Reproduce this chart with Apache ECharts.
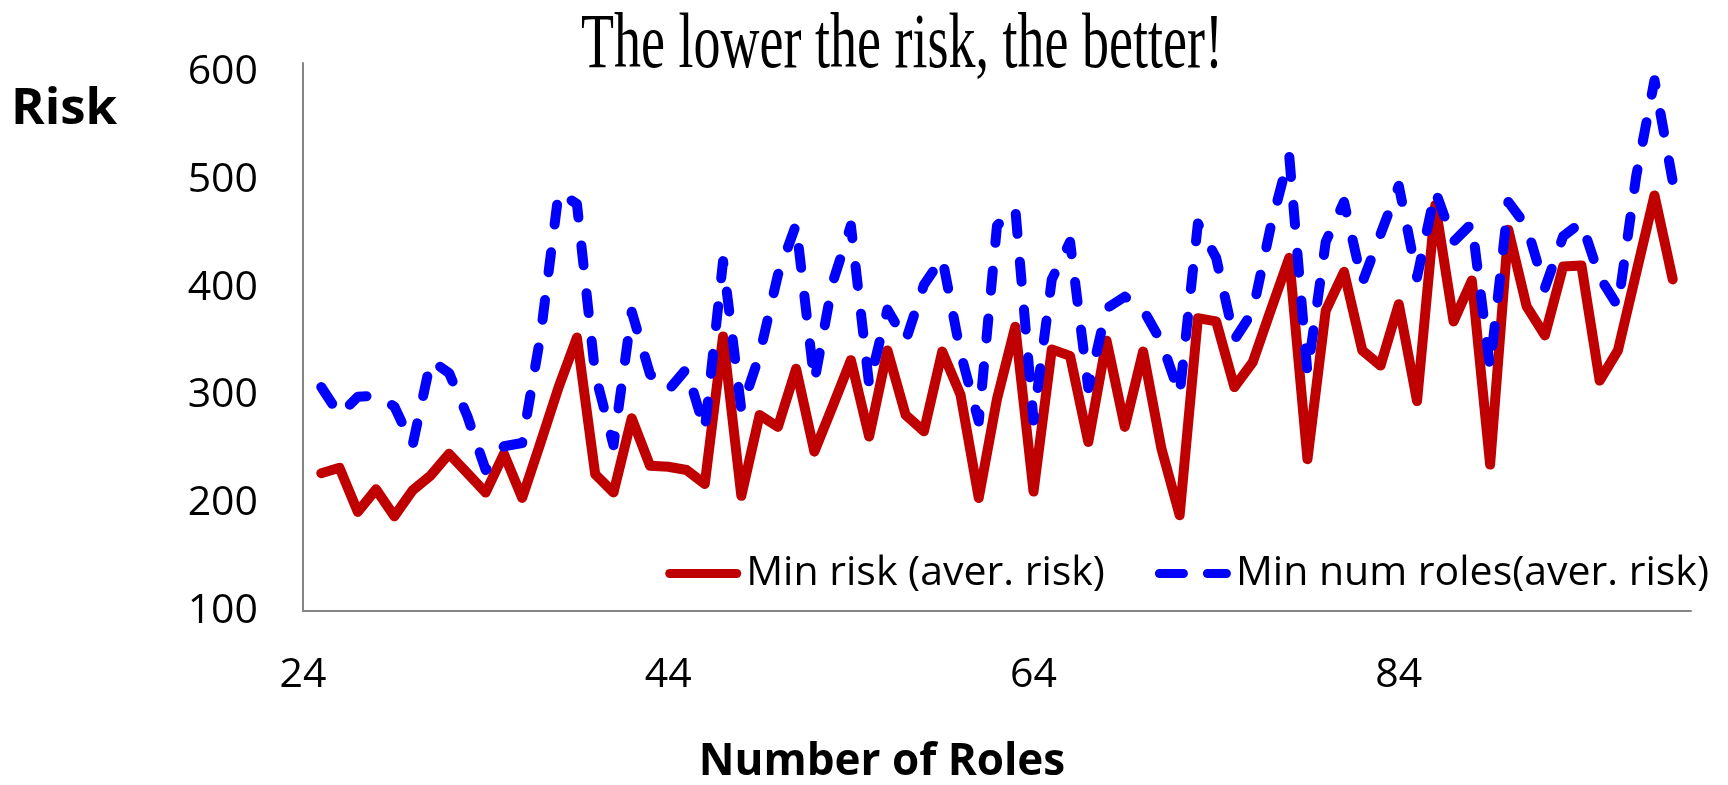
<!DOCTYPE html>
<html>
<head>
<meta charset="utf-8">
<title>The lower the risk, the better!</title>
<script src="https://cdn.jsdelivr.net/npm/echarts@6/dist/echarts.min.js"></script>
<style>
  html, body { margin: 0; padding: 0; background: #ffffff; }
  #chart { width: 1728px; height: 785px; }
</style>
</head>
<body>
<div id="chart"></div>
<script>
// Number of roles (x values)
const roles = [
  25, 26, 27, 28, 29, 30, 31, 32, 33, 34, 35, 36,
  37, 38, 39, 40, 41, 42, 43, 44, 45, 46, 47, 48,
  49, 50, 51, 52, 53, 54, 55, 56, 57, 58, 59, 60,
  61, 62, 63, 64, 65, 66, 67, 68, 69, 70, 71, 72,
  73, 74, 75, 76, 77, 78, 79, 80, 81, 82, 83, 84,
  85, 86, 87, 88, 89, 90, 91, 92, 93, 94, 95, 96,
  97, 98, 99
];

// Min risk (aver. risk)
const minRisk = [
  228, 233, 192, 213, 188, 212, 226, 246, 228, 210, 246, 205,
  256, 308, 354, 227, 210, 279, 235, 234, 231, 218, 355, 207,
  282, 271, 325, 248, 290, 333, 262, 342, 282, 267, 341, 301,
  205, 297, 364, 211, 343, 337, 257, 351, 271, 341, 251, 189,
  372, 369, 308, 331, 380, 428, 241, 379, 415, 342, 328, 385,
  295, 477, 369, 407, 236, 454, 383, 356, 420, 421, 314, 342,
  414, 486, 408
];

// Min num roles (aver. risk)
const minNumRoles = [
  308, 282, 299, 300, 290, 254, 333, 321, 281, 231, 253, 256,
  355, 489, 478, 320, 254, 378, 320, 305, 325, 268, 425, 287,
  338, 412, 459, 313, 405, 458, 310, 380, 351, 403, 428, 340,
  276, 458, 474, 277, 408, 443, 307, 381, 392, 380, 350, 301,
  460, 428, 352, 378, 458, 523, 321, 443, 480, 405, 450, 495,
  410, 490, 443, 460, 326, 480, 457, 400, 448, 461, 410, 383,
  504, 593, 499
];

const seriesNames = ['Min risk (aver. risk)', 'Min num roles(aver. risk)'];
const chartTitle = 'The lower the risk, the better!';
const yTitle = 'Risk';
const xTitle = 'Number of Roles';

const pairs = (ys) => roles.map((x, i) => [x, ys[i]]);

const labelFont = '"Open Sans", "Liberation Sans", sans-serif';
const axisGray = '#868686';
const red = '#C00000';
const blue = '#0000FF';

// Legend keys: a solid rounded bar and two rounded dashes
const solidKey = 'path://M4.5,0H71.5A4.5,4.5,0,0,1,71.5,9H4.5A4.5,4.5,0,0,1,4.5,0Z';
const dashedKey = 'path://M4.5,0H28.5A4.5,4.5,0,0,1,28.5,9H4.5A4.5,4.5,0,0,1,4.5,0Z' +
                  'M52.5,0H71.5A4.5,4.5,0,0,1,71.5,9H52.5A4.5,4.5,0,0,1,52.5,0Z';

const chart = echarts.init(document.getElementById('chart'), null, { renderer: 'canvas' });

chart.setOption({
  backgroundColor: '#ffffff',
  animation: false,
  grid: {
    left: 303,
    right: 37,
    top: 63,
    bottom: 174,
    containLabel: false,
    outerBoundsMode: 'none'
  },
  xAxis: {
    type: 'value',
    min: 24,
    max: 100,
    interval: 20,
    axisLine: { show: true, lineStyle: { color: axisGray, width: 2 } },
    axisTick: { show: false },
    splitLine: { show: false },
    axisLabel: {
      showMaxLabel: false,
      margin: 44,
      color: '#000000',
      fontFamily: labelFont,
      fontSize: 41
    }
  },
  yAxis: {
    type: 'value',
    min: 100,
    max: 609,
    interval: 100,
    axisLine: { show: true, lineStyle: { color: axisGray, width: 2 } },
    axisTick: { show: false },
    splitLine: { show: false },
    axisLabel: {
      showMaxLabel: false,
      margin: 45,
      color: '#000000',
      fontFamily: labelFont,
      fontSize: 41
    }
  },
  legend: {
    data: [
      { name: seriesNames[0], icon: solidKey, itemStyle: { color: red, borderWidth: 0 } },
      { name: seriesNames[1], icon: dashedKey, itemStyle: { color: blue, borderWidth: 0 } }
    ],
    right: 14,
    top: 548,
    itemWidth: 76,
    itemHeight: 10,
    itemGap: 50,
    textStyle: {
      color: '#000000',
      fontFamily: labelFont,
      fontSize: 41
    }
  },
  series: [
    {
      name: seriesNames[0],
      type: 'line',
      data: pairs(minRisk),
      showSymbol: false,
      symbol: 'none',
      z: 2,
      lineStyle: { color: red, width: 10, join: 'round', cap: 'round' },
      itemStyle: { color: red }
    },
    {
      name: seriesNames[1],
      type: 'line',
      data: pairs(minNumRoles),
      showSymbol: false,
      symbol: 'none',
      z: 3,
      lineStyle: { color: blue, width: 10, type: [20, 28], cap: 'round', join: 'round' },
      itemStyle: { color: blue }
    }
  ],
  graphic: [
    {
      type: 'text',
      x: 902,
      y: 46,
      scaleY: 1.45,
      style: {
        text: chartTitle,
        fill: '#000000',
        fontFamily: '"Liberation Serif", "DejaVu Serif", serif',
        fontSize: 54,
        align: 'center',
        verticalAlign: 'middle'
      }
    },
    {
      type: 'text',
      x: 11,
      y: 109,
      style: {
        text: yTitle,
        fill: '#000000',
        fontFamily: labelFont,
        fontWeight: 'bold',
        fontSize: 51,
        align: 'left',
        verticalAlign: 'middle'
      }
    },
    {
      type: 'text',
      x: 882,
      y: 762,
      style: {
        text: xTitle,
        fill: '#000000',
        fontFamily: labelFont,
        fontWeight: 'bold',
        fontSize: 44,
        align: 'center',
        verticalAlign: 'middle'
      }
    }
  ]
});
</script>
</body>
</html>
